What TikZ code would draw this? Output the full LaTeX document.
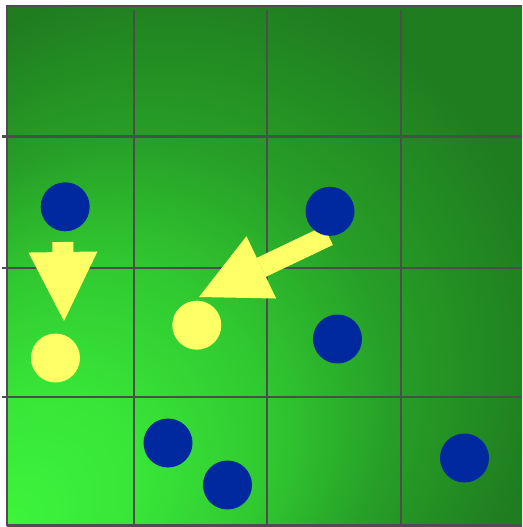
\documentclass[tikz,border=0pt]{standalone}
\usetikzlibrary{arrows.meta}
\definecolor{bgin}{RGB}{60,245,60}
\definecolor{bga}{RGB}{56,228,56}
\definecolor{bgb}{RGB}{48,200,48}
\definecolor{bgc}{RGB}{39,158,39}
\definecolor{bgout}{RGB}{31,125,31}
\definecolor{gridc}{RGB}{77,77,77}
\definecolor{dotblue}{RGB}{0,41,160}
\definecolor{dotyellow}{RGB}{255,255,102}
% focal point at the lower left corner of the path's box
\pgfdeclareradialshading{bgshade}{\pgfpoint{-25bp}{-25bp}}{color(0bp)=(bgin); color(9bp)=(bga); color(17bp)=(bgb); color(25bp)=(bgc); color(35bp)=(bgout); color(50bp)=(bgout)}
\begin{document}
\begin{tikzpicture}[x=1pt,y=-1pt,
  gridline/.style={draw=gridc,line width=2.4pt},
  bluedot/.style={circle,fill=dotblue,minimum size=49pt,inner sep=0pt},
  yellowdot/.style={circle,fill=dotyellow,minimum size=49pt,inner sep=0pt},
  fatarrow/.style={draw=dotyellow,line width=21pt,-{Triangle[length=69pt,width=69pt,line width=0pt]}}]
\useasboundingbox (0,0) rectangle (522,527);
% background
\shade[shading=bgshade] (7,6) rectangle (522,526);
% grid
\draw[gridline] (7,525.5) -- (7,6.2) -- (522,6.2);
\draw[gridline] (7,525.5) -- (522,525.5);
\draw[gridline] (134,10.5) -- (134,526);
\draw[gridline] (267,10.5) -- (267,526);
\draw[gridline] (401,10.5) -- (401,526);
\draw[gridline] (2,136.5) -- (522,136.5);
\draw[gridline] (2,268) -- (522,268);
\draw[gridline] (2,397) -- (522,397);
% arrows
\coordinate (a1s) at (62.8,242);
\coordinate (a1e) at (64,321);
\coordinate (a2s) at (328.3,235.5);
\coordinate (a2e) at (199,297);
\draw[fatarrow] (a1s) -- (a1e);
\draw[fatarrow] (a2s) -- (a2e);
% dots
\node[bluedot] (b1) at (65.2,206.8) {};
\node[bluedot] (b2) at (330,211.3) {};
\node[bluedot] (b3) at (337.5,339) {};
\node[bluedot] (b4) at (168,443) {};
\node[bluedot] (b5) at (227.5,485) {};
\node[bluedot] (b6) at (464.5,458) {};
\node[yellowdot] (y1) at (55.5,358) {};
\node[yellowdot] (y2) at (196.8,325.2) {};
\end{tikzpicture}
\end{document}
